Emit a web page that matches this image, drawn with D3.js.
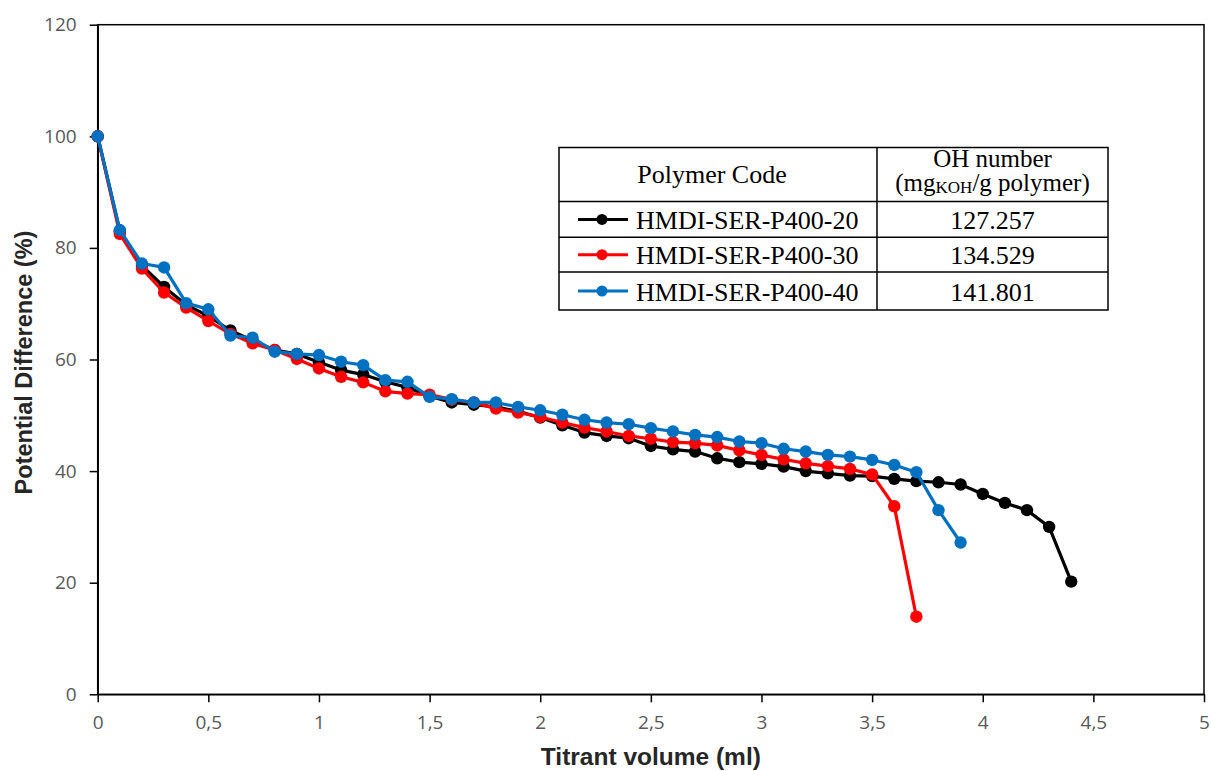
<!DOCTYPE html>
<html>
<head>
<meta charset="utf-8">
<script src="https://cdn.jsdelivr.net/npm/d3@7"></script>
<style>
  html, body { margin: 0; padding: 0; background: #fff; }
  svg { display: block; }
</style>
</head>
<body>
<svg id="chart" width="1211" height="771"></svg>
<script>
// Titrant volume (ml) at each reading, per polymer
const volumes20 = [0, 0.1, 0.2, 0.3, 0.4, 0.5, 0.6, 0.7, 0.8, 0.9, 1.0, 1.1, 1.2, 1.3, 1.4, 1.5, 1.6, 1.7, 1.8, 1.9, 2.0, 2.1, 2.2, 2.3, 2.4, 2.5, 2.6, 2.7, 2.8, 2.9, 3.0, 3.1, 3.2, 3.3, 3.4, 3.5, 3.6, 3.7, 3.8, 3.9, 4.0, 4.1, 4.2, 4.3, 4.4];
const volumes30 = [0, 0.1, 0.2, 0.3, 0.4, 0.5, 0.6, 0.7, 0.8, 0.9, 1.0, 1.1, 1.2, 1.3, 1.4, 1.5, 1.6, 1.7, 1.8, 1.9, 2.0, 2.1, 2.2, 2.3, 2.4, 2.5, 2.6, 2.7, 2.8, 2.9, 3.0, 3.1, 3.2, 3.3, 3.4, 3.5, 3.6, 3.7];
const volumes40 = [0, 0.1, 0.2, 0.3, 0.4, 0.5, 0.6, 0.7, 0.8, 0.9, 1.0, 1.1, 1.2, 1.3, 1.4, 1.5, 1.6, 1.7, 1.8, 1.9, 2.0, 2.1, 2.2, 2.3, 2.4, 2.5, 2.6, 2.7, 2.8, 2.9, 3.0, 3.1, 3.2, 3.3, 3.4, 3.5, 3.6, 3.7, 3.8, 3.9];

// Potential difference (%) readings
const potential20 = [100, 83.0, 76.8, 73.0, 69.8, 67.8, 65.2, 63.4, 61.7, 61.0, 59.5, 58.1, 57.3, 56.0, 55.0, 53.4, 52.3, 51.9, 51.5, 50.7, 49.6, 48.2, 46.9, 46.3, 45.9, 44.5, 43.9, 43.5, 42.3, 41.6, 41.3, 40.8, 40.0, 39.6, 39.2, 39.1, 38.6, 38.2, 38.0, 37.6, 35.9, 34.3, 33.0, 30.0, 20.2];
const potential30 = [100, 82.5, 76.3, 72.0, 69.3, 66.9, 64.6, 62.9, 61.7, 60.1, 58.4, 56.9, 55.9, 54.3, 53.9, 53.7, 52.8, 52.3, 51.2, 50.5, 49.7, 48.7, 47.8, 47.1, 46.3, 45.8, 45.2, 45.0, 44.6, 43.7, 42.9, 42.1, 41.4, 40.9, 40.4, 39.4, 33.7, 13.9];
const potential40 = [100, 83.2, 77.2, 76.5, 70.1, 69.0, 64.3, 63.9, 61.4, 61.0, 60.8, 59.6, 59.0, 56.3, 56.0, 53.3, 52.9, 52.3, 52.3, 51.5, 50.9, 50.1, 49.2, 48.7, 48.4, 47.7, 47.1, 46.5, 46.1, 45.3, 45.0, 44.0, 43.5, 42.9, 42.6, 42.0, 41.1, 39.8, 33.0, 27.2];

const polymerCodes = ["HMDI-SER-P400-20", "HMDI-SER-P400-30", "HMDI-SER-P400-40"];
const ohNumbers = ["127.257", "134.529", "141.801"];
const seriesColors = ["#000000", "#ff0000", "#0070c0"];

const xTicks = [0, 0.5, 1, 1.5, 2, 2.5, 3, 3.5, 4, 4.5, 5];
const yTicks = [0, 20, 40, 60, 80, 100, 120];

const series = [
  { name: polymerCodes[0], x: volumes20, y: potential20, color: seriesColors[0] },
  { name: polymerCodes[1], x: volumes30, y: potential30, color: seriesColors[1] },
  { name: polymerCodes[2], x: volumes40, y: potential40, color: seriesColors[2] }
];

const W = 1211, H = 771;
const margin = { top: 24.7, right: 7, bottom: 76.7, left: 97.7 };
const svg = d3.select("#chart");

const x = d3.scaleLinear().domain([0, 5]).range([margin.left, W - margin.right]);
const y = d3.scaleLinear().domain([0, 120]).range([H - margin.bottom, margin.top]);

const commaFmt = v => d3.format("~g")(v).replace(".", ",");
const tickFont = "'Open Sans', 'DejaVu Sans', sans-serif";

// Plot frame
svg.append("rect")
  .attr("x", x(0)).attr("y", y(120))
  .attr("width", x(5) - x(0)).attr("height", y(0) - y(120))
  .attr("fill", "none").attr("stroke", "#000").attr("stroke-width", 1.5);

// Axes
const yAxis = svg.append("g")
  .attr("transform", `translate(${x(0)},0)`)
  .call(d3.axisLeft(y).tickValues(yTicks).tickSize(8).tickSizeOuter(0).tickPadding(13).tickFormat(d3.format("d")));
const xAxis = svg.append("g")
  .attr("transform", `translate(0,${y(0)})`)
  .call(d3.axisBottom(x).tickValues(xTicks).tickSize(8).tickSizeOuter(0).tickPadding(13).tickFormat(commaFmt));

[xAxis, yAxis].forEach(g => {
  g.select(".domain").attr("stroke", "#000").attr("stroke-width", 1.5);
  g.selectAll(".tick line").attr("stroke", "#000").attr("stroke-width", 1.5);
  g.selectAll(".tick text")
    .attr("fill", "#595959")
    .style("font-family", tickFont)
    .style("font-size", "19px");
});

// Axis titles
svg.append("text")
  .attr("x", (x(0) + x(5)) / 2).attr("y", 765)
  .attr("text-anchor", "middle")
  .style("font-family", "'Liberation Sans', Arial, sans-serif")
  .style("font-weight", "bold").style("font-size", "24.5px")
  .attr("fill", "#262626")
  .text("Titrant volume (ml)");

svg.append("text")
  .attr("transform", `translate(32,${(y(0) + y(120)) / 2 + 3}) rotate(-90)`)
  .attr("text-anchor", "middle")
  .style("font-family", "'Liberation Sans', Arial, sans-serif")
  .style("font-weight", "bold").style("font-size", "23.5px")
  .attr("fill", "#262626")
  .text("Potential Difference (%)");

// Series lines and markers
const line = d3.line().x(d => x(d[0])).y(d => y(d[1]));
series.forEach(s => {
  const pts = s.x.map((v, i) => [v, s.y[i]]);
  const g = svg.append("g");
  g.append("path")
    .datum(pts)
    .attr("d", line)
    .attr("fill", "none")
    .attr("stroke", s.color)
    .attr("stroke-width", 3.2)
    .attr("stroke-linejoin", "round");
  g.selectAll("circle")
    .data(pts)
    .join("circle")
    .attr("cx", d => x(d[0]))
    .attr("cy", d => y(d[1]))
    .attr("r", 6.2)
    .attr("fill", s.color);
});

// Legend table
const tbl = { left: 559, right: 1108, top: 147.5, mid: 877, rows: [201.5, 237.3, 272, 310] };
const serif = "'Liberation Serif', 'Times New Roman', serif";
const legend = svg.append("g");
legend.append("rect")
  .attr("x", tbl.left).attr("y", tbl.top)
  .attr("width", tbl.right - tbl.left).attr("height", tbl.rows[3] - tbl.top)
  .attr("fill", "#fff").attr("stroke", "#000").attr("stroke-width", 1.5);
legend.append("line")
  .attr("x1", tbl.mid).attr("x2", tbl.mid)
  .attr("y1", tbl.top).attr("y2", tbl.rows[3])
  .attr("stroke", "#000").attr("stroke-width", 1.5);
tbl.rows.slice(0, 3).forEach(r => {
  legend.append("line")
    .attr("x1", tbl.left).attr("x2", tbl.right)
    .attr("y1", r).attr("y2", r)
    .attr("stroke", "#000").attr("stroke-width", 1.5);
});

// Header cells
legend.append("text")
  .attr("x", 712).attr("y", 183)
  .attr("text-anchor", "middle")
  .style("font-family", serif).style("font-size", "26px")
  .text("Polymer Code");

const rightCx = (tbl.mid + tbl.right) / 2;
legend.append("text")
  .attr("x", rightCx).attr("y", 167)
  .attr("text-anchor", "middle")
  .style("font-family", serif).style("font-size", "25px")
  .text("OH number");
const unit = legend.append("text")
  .attr("x", rightCx).attr("y", 191)
  .attr("text-anchor", "middle")
  .style("font-family", serif).style("font-size", "25px");
unit.append("tspan").text("(mg");
unit.append("tspan").style("font-size", "17px").attr("dy", 2).text("KOH");
unit.append("tspan").attr("dy", -2).text("/g polymer)");

// Series rows
series.forEach((s, i) => {
  const cy = (tbl.rows[i] + tbl.rows[i + 1]) / 2;
  legend.append("line")
    .attr("x1", 578).attr("x2", 628)
    .attr("y1", cy).attr("y2", cy)
    .attr("stroke", s.color).attr("stroke-width", 3);
  legend.append("circle")
    .attr("cx", 602).attr("cy", cy).attr("r", 5.5)
    .attr("fill", s.color);
  legend.append("text")
    .attr("x", 636).attr("y", cy + 9.5)
    .style("font-family", serif).style("font-size", "26px")
    .text(s.name);
  legend.append("text")
    .attr("x", rightCx).attr("y", cy + 9.5)
    .attr("text-anchor", "middle")
    .style("font-family", serif).style("font-size", "26px")
    .text(ohNumbers[i]);
});
</script>
</body>
</html>
